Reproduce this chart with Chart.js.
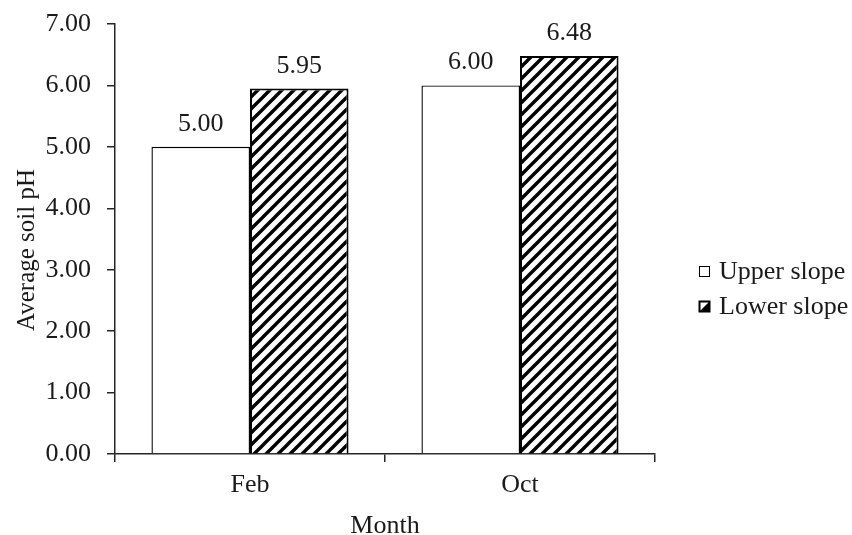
<!DOCTYPE html>
<html>
<head>
<meta charset="utf-8">
<script src="https://cdn.jsdelivr.net/npm/chart.js@4/dist/chart.umd.min.js"></script>
<style>
  html, body { margin: 0; padding: 0; background: #ffffff; }
  #wrap { width: 852px; height: 535px; }
</style>
</head>
<body>
<div id="wrap"><canvas id="c" width="852" height="535"></canvas></div>
<script>
// Average soil pH by sampling month and slope position
const months = ['Feb', 'Oct'];
const upperSlope = [5.00, 6.00];
const lowerSlope = [5.95, 6.48];
const seriesNames = ['Upper slope', 'Lower slope'];
const yTicks = [0, 1, 2, 3, 4, 5, 6, 7];
const yTitle = 'Average soil pH';
const xTitle = 'Month';

const FAMILY = '"Liberation Serif", "Times New Roman", serif';
const FONT = { family: FAMILY, size: 26 };
const INK = '#1a1a1a';
const LINE = '#262626';

// Diagonal "/" hatch used for the lower-slope bars
function makeHatch() {
  const s = 12;
  const c = document.createElement('canvas');
  c.width = s; c.height = s;
  const g = c.getContext('2d');
  g.fillStyle = '#ffffff';
  g.fillRect(0, 0, s, s);
  g.strokeStyle = '#000000';
  g.lineWidth = 3.4;
  g.beginPath();
  g.moveTo(-3, s + 3); g.lineTo(s + 3, -3);
  g.moveTo(-3, 3);     g.lineTo(3, -3);
  g.moveTo(s - 3, s + 3); g.lineTo(s + 3, s - 3);
  g.stroke();
  return document.getElementById('c').getContext('2d').createPattern(c, 'repeat');
}
const hatch = makeHatch();

// Value printed above each bar
const valueLabels = {
  id: 'valueLabels',
  afterDatasetsDraw(chart) {
    const ctx = chart.ctx;
    ctx.save();
    ctx.font = FONT.size + 'px ' + FAMILY;
    ctx.fillStyle = INK;
    ctx.textAlign = 'center';
    ctx.textBaseline = 'alphabetic';
    chart.data.datasets.forEach((ds, i) => {
      chart.getDatasetMeta(i).data.forEach((bar, j) => {
        ctx.fillText(ds.data[j].toFixed(2), bar.x, bar.y - 16);
      });
    });
    ctx.restore();
  }
};

// Vertical axis title, set a little below the middle of the plot
const sideTitle = {
  id: 'sideTitle',
  afterDraw(chart) {
    const ctx = chart.ctx;
    const a = chart.chartArea;
    ctx.save();
    ctx.font = '25px ' + FAMILY;
    ctx.fillStyle = INK;
    ctx.textAlign = 'center';
    ctx.textBaseline = 'middle';
    ctx.translate(27, (a.top + a.bottom) / 2 + 11);
    ctx.rotate(-Math.PI / 2);
    ctx.fillText(yTitle, 0, 0);
    ctx.restore();
  }
};

// Legend at the right of the plot
const sideLegend = {
  id: 'sideLegend',
  afterDraw(chart) {
    const ctx = chart.ctx;
    const a = chart.chartArea;
    const x = a.right + 44;
    const y0 = (a.top + a.bottom) / 2 + 32;
    const gap = 35;
    const box = 11;
    ctx.save();
    ctx.font = FONT.size + 'px ' + FAMILY;
    ctx.textBaseline = 'middle';
    ctx.textAlign = 'left';
    chart.data.datasets.forEach((ds, i) => {
      const y = y0 + i * gap;
      const bx = x, by = Math.round(y - box / 2);
      ctx.fillStyle = '#ffffff';
      ctx.fillRect(bx, by, box, box);
      if (i === 1) {
        ctx.fillStyle = '#000000';
        ctx.beginPath();
        ctx.moveTo(bx + box, by);
        ctx.lineTo(bx + box, by + box);
        ctx.lineTo(bx, by + box);
        ctx.closePath();
        ctx.fill();
        ctx.lineWidth = 2;
      } else {
        ctx.lineWidth = 1;
      }
      ctx.strokeStyle = '#000000';
      ctx.strokeRect(bx + 0.5, by + 0.5, box - 1, box - 1);
      ctx.fillStyle = INK;
      ctx.fillText(ds.label, x + box + 9, y + 1);
    });
    ctx.restore();
  }
};

new Chart(document.getElementById('c'), {
  type: 'bar',
  data: {
    labels: months,
    datasets: [
      {
        label: seriesNames[0],
        data: upperSlope,
        backgroundColor: '#ffffff',
        borderColor: '#000000',
        borderWidth: 1.4,
        borderSkipped: 'bottom'
      },
      {
        label: seriesNames[1],
        data: lowerSlope,
        backgroundColor: hatch,
        borderColor: '#000000',
        borderWidth: 2,
        borderSkipped: 'bottom'
      }
    ]
  },
  options: {
    responsive: false,
    animation: false,
    devicePixelRatio: 1,
    categoryPercentage: 0.73,
    barPercentage: 1.0,
    layout: { padding: { left: 0, right: 197, top: 24, bottom: -7 } },
    plugins: {
      legend: { display: false },
      tooltip: { enabled: false }
    },
    scales: {
      x: {
        offset: true,
        afterFit: s => { s.height = 88; s.paddingLeft = 0; s.paddingRight = 0; },
        grid: {
          offset: true,
          drawOnChartArea: false,
          drawTicks: true,
          tickLength: 8,
          color: LINE,
          lineWidth: 1.5
        },
        border: { color: LINE, width: 1.5 },
        ticks: { font: FONT, color: INK, padding: 8 },
        title: { display: true, text: xTitle, font: FONT, color: INK, padding: { top: 8, bottom: 0 } }
      },
      y: {
        min: 0,
        max: 7,
        afterFit: s => { s.width = 115; s.paddingTop = 0; s.paddingBottom = 0; },
        afterBuildTicks: s => { s.ticks = yTicks.map(v => ({ value: v })); },
        ticks: { font: FONT, color: INK, padding: 16, callback: v => Number(v).toFixed(2) },
        grid: {
          drawOnChartArea: false,
          drawTicks: true,
          tickLength: 8,
          color: LINE,
          lineWidth: 1.5
        },
        border: { color: LINE, width: 1.5 },
        title: { display: false }
      }
    }
  },
  plugins: [valueLabels, sideTitle, sideLegend]
});
</script>
</body>
</html>
